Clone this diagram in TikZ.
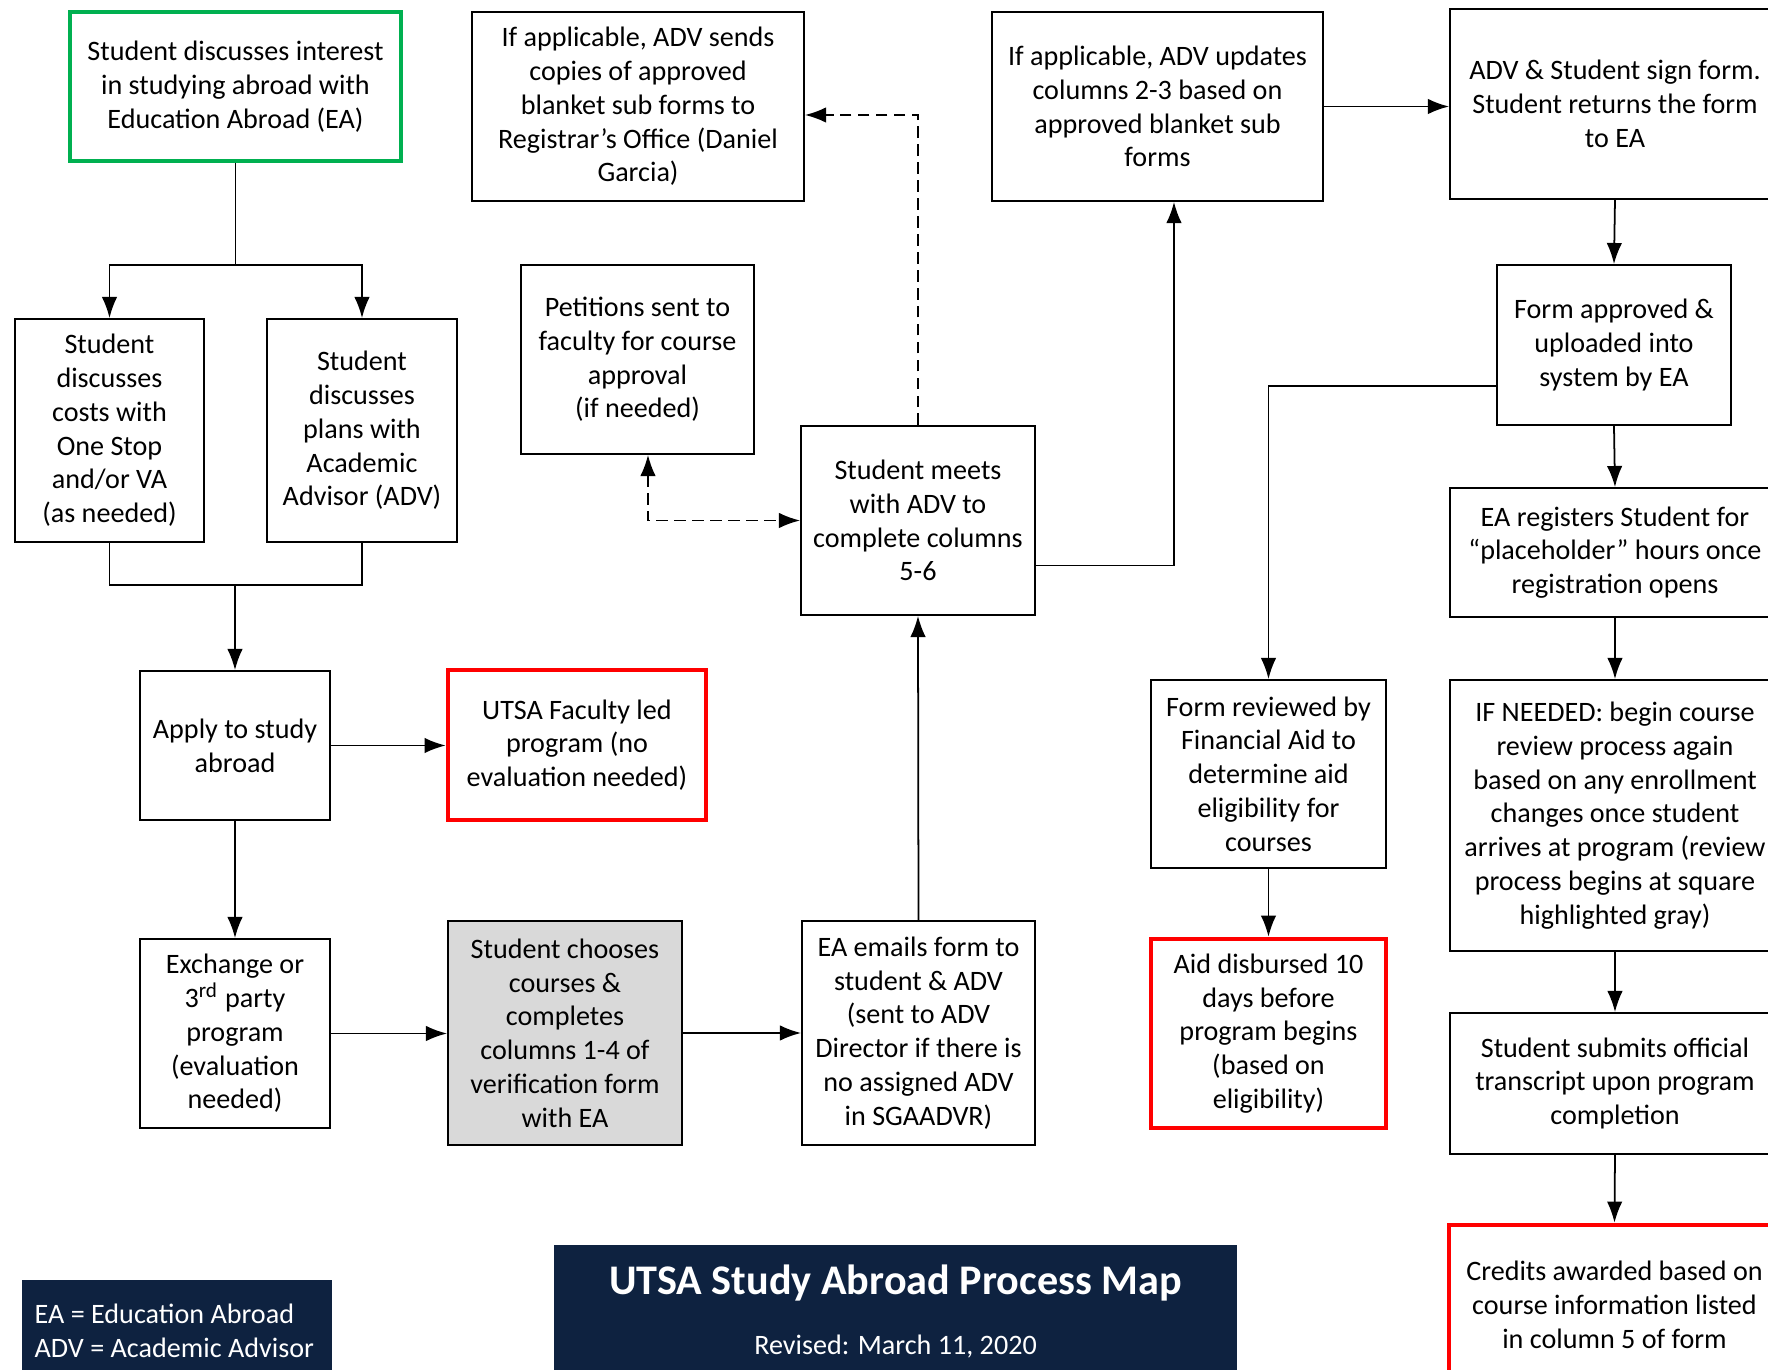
\documentclass[tikz,border=0pt]{standalone}
\usepackage{fontspec}
\setmainfont{Carlito}
\usetikzlibrary{arrows.meta,calc}

\definecolor{navy}{HTML}{0E2240}
\definecolor{boxgrey}{HTML}{D9D9D9}
\definecolor{eagreen}{HTML}{00B050}

\tikzset{
  stepbox/.style={draw, line width=0.5pt, align=center, inner sep=0pt,
    font=\fontsize{8}{9.6}\selectfont},
  redbox/.style={stepbox, draw=red, line width=1.3pt},
  plain/.style={line width=0.5pt},
  link/.style={plain, -{Latex[length=6pt,width=4.4pt]}},
  dashlink/.style={dash pattern=on 3.3pt off 1.8pt},
}

\begin{document}
\begin{tikzpicture}[x=0.01cm, y=-0.01cm]
\clip (0,0) rectangle (1768,1370);

% Column 1
\node[stepbox, draw=eagreen, line width=1pt, minimum width=3.31cm, minimum height=1.49cm]
  (interest) at (235.5,86.5) {Student discusses interest\\in studying abroad with\\Education Abroad (EA)};
\node[stepbox, minimum width=1.89cm, minimum height=2.23cm] (costs) at (109.5,430.5)
  {Student\\discusses\\costs with\\One Stop\\and/or VA\\(as needed)};
\node[stepbox, minimum width=1.90cm, minimum height=2.23cm] (plans) at (362,430.5)
  {Student\\discusses\\plans with\\Academic\\Advisor (ADV)};
\node[stepbox, minimum width=1.90cm, minimum height=1.49cm] (apply) at (235,745.5)
  {Apply to study\\abroad};
\node[stepbox, minimum width=1.90cm, minimum height=1.89cm] (exchange) at (235,1033.5)
  {Exchange or\\3\textsuperscript{rd} party\\program\\(evaluation\\needed)};

% Column 2
\node[stepbox, minimum width=3.32cm, minimum height=1.89cm] (registrar) at (638,106.5)
  {If applicable, ADV sends\\copies of approved\\blanket sub forms to\\Registrar’s Office (Daniel\\Garcia)};
\node[stepbox, minimum width=2.33cm, minimum height=1.89cm] (petitions) at (637.5,359.5)
  {Petitions sent to\\faculty for course\\approval\\(if needed)};
\node[redbox, minimum width=2.58cm, minimum height=1.50cm] (faculty) at (577,745)
  {UTSA Faculty led\\program (no\\evaluation needed)};
\node[stepbox, fill=boxgrey, minimum width=2.34cm, minimum height=2.24cm] (choose) at (565,1033)
  {Student chooses\\courses \&\\completes\\columns 1-4 of\\verification form\\with EA};

% Column 3
\node[stepbox, minimum width=2.34cm, minimum height=1.89cm] (meets) at (918,520.5)
  {Student meets\\with ADV to\\complete columns\\5-6};
\node[stepbox, minimum width=2.33cm, minimum height=2.24cm] (emails) at (918.5,1033)
  {EA emails form to\\student \& ADV\\(sent to ADV\\Director if there is\\no assigned ADV\\in SGAADVR)};

% Column 4
\node[stepbox, minimum width=3.31cm, minimum height=1.89cm] (updates) at (1157.5,106.5)
  {If applicable, ADV updates\\columns 2-3 based on\\approved blanket sub\\forms};
\node[stepbox, minimum width=2.35cm, minimum height=1.88cm] (review) at (1268.5,774)
  {Form reviewed by\\Financial Aid to\\determine aid\\eligibility for\\courses};
\node[redbox, minimum width=2.35cm, minimum height=1.89cm] (disbursed) at (1268.5,1033.5)
  {Aid disbursed 10\\days before\\program begins\\(based on\\eligibility)};

% Column 5
\node[stepbox, minimum width=3.30cm, minimum height=1.90cm] (sign) at (1615,104)
  {ADV \& Student sign form.\\Student returns the form\\to EA};
\node[stepbox, minimum width=2.34cm, minimum height=1.60cm] (approved) at (1614,345)
  {Form approved \&\\uploaded into\\system by EA};
\node[stepbox, minimum width=3.30cm, minimum height=1.29cm] (registers) at (1615,552.5)
  {EA registers Student for\\“placeholder” hours once\\registration opens};
\node[stepbox, minimum width=3.30cm, minimum height=2.71cm] (again) at (1615,815.5)
  {IF NEEDED: begin course\\review process again\\based on any enrollment\\changes once student\\arrives at program (review\\process begins at square\\highlighted gray)};
\node[stepbox, minimum width=3.30cm, minimum height=1.41cm] (transcript) at (1615,1083.5)
  {Student submits official\\transcript upon program\\completion};
\node[redbox, minimum width=3.31cm, minimum height=1.60cm] (credits) at (1614.5,1305)
  {Credits awarded based on\\course information listed\\in column 5 of form};

% Legend and title
\node[fill=navy, minimum width=3.10cm, minimum height=1.00cm] (legend) at (177,1330) {};
\node[anchor=west, align=left, text=white, inner sep=0pt, font=\fontsize{8}{9.6}\selectfont]
  (legendtext) at (34,1331) {EA = Education Abroad\\ADV = Academic Advisor};
\node[fill=navy, minimum width=6.83cm, minimum height=1.35cm] (titlebox) at (895.5,1312.5) {};
\node[text=white, inner sep=0pt, font=\bfseries\fontsize{12}{14}\selectfont]
  (title) at (895.5,1283) {UTSA Study Abroad Process Map};
\node[text=white, inner sep=0pt, font=\fontsize{8}{9.6}\selectfont]
  (revised) at (895.5,1347) {Revised: March 11, 2020};

% Left branch
\coordinate (fork) at (235.5,265);
\draw[plain] (interest.south) -- (fork);
\draw[link] (fork) -| (costs.north);
\draw[link] (fork) -| (plans.north);
\coordinate (join) at (235,585);
\draw[plain] (costs.south) |- (join) -| (plans.south);
\draw[link] (join) -- (apply.north);
\draw[link] (apply.east) -- (apply.east -| faculty.west);
\draw[link] (apply.south) -- (exchange.north);

% Bottom row
\draw[link] (exchange.east) -- (exchange.east -| choose.west);
\draw[link] (choose.east) -- (emails.west);
\draw[link] (emails.north) -- (meets.south);

% Dashed links
\coordinate (dash_turn) at (918,115);
\draw[link, dashlink] (meets.north) -- (dash_turn) -- (dash_turn -| registrar.east);
\draw[plain, dashlink, {Latex[length=6pt,width=4.4pt]}-{Latex[length=6pt,width=4.4pt]}]
  ($(petitions.south)+(10.5,0)$) |- (meets.west);

% Top row and right column
\draw[link] ($(meets.east)+(0,45)$) -| ($(updates.south)+(16.5,0)$);
\draw[link] (updates.east) -- (updates.east -| sign.west);
\draw[link] (sign.south) -- (approved.north);
\draw[link] ($(approved.west)+(0,41)$) -| (review.north);
\draw[link] (review.south) -- (disbursed.north);
\draw[link] (approved.south) -- (registers.north);
\draw[link] (registers.south) -- (again.north);
\draw[link] (again.south) -- (transcript.north);
\draw[link] (transcript.south) -- (credits.north);

\end{tikzpicture}
\end{document}
